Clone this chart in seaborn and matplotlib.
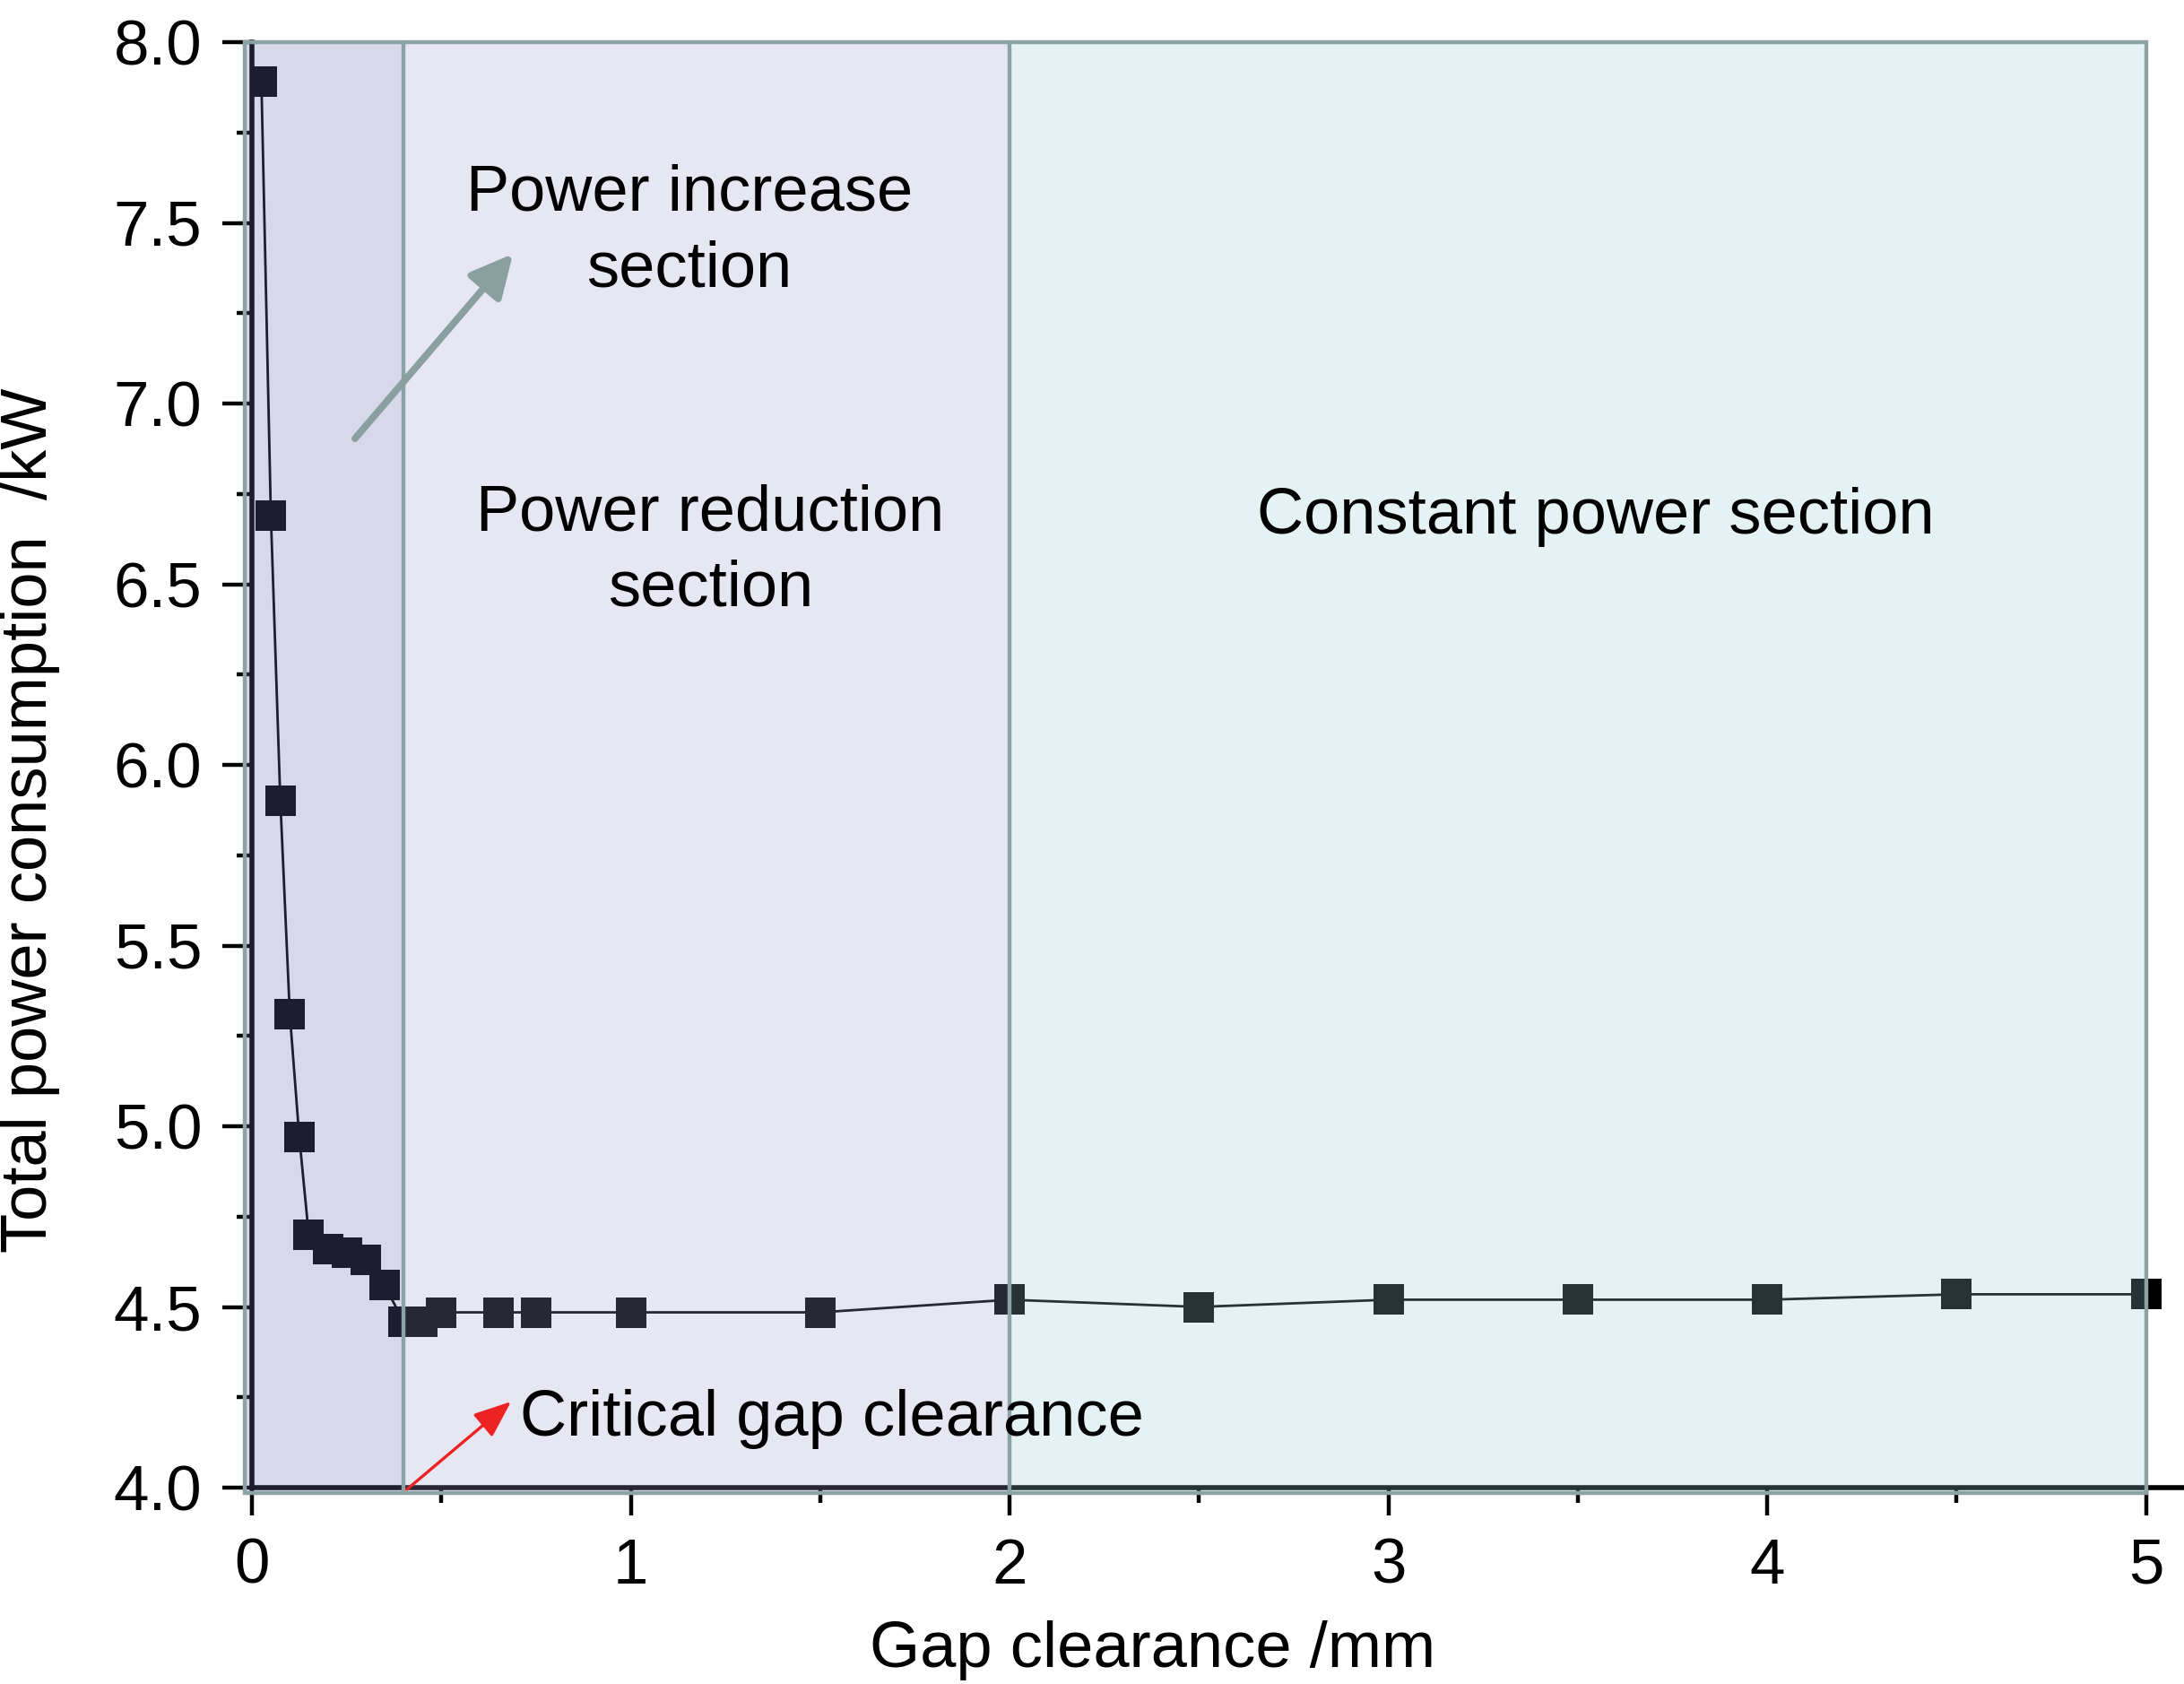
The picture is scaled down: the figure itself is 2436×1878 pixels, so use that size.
import numpy as np
import pandas as pd
import matplotlib
matplotlib.use("Agg")
import matplotlib.pyplot as plt
from matplotlib.patches import Rectangle
from matplotlib.ticker import MultipleLocator, FormatStrFormatter
import seaborn as sns

# ---- data ----
gap_mm = [0.025, 0.05, 0.075, 0.1, 0.125, 0.15, 0.2, 0.25, 0.3, 0.35, 0.4, 0.45,
          0.5, 0.65, 0.75, 1.0, 1.5, 2.0, 2.5, 3.0, 3.5, 4.0, 4.5, 5.0]
power_kw = [7.89, 6.69, 5.90, 5.31, 4.97, 4.70, 4.66, 4.65, 4.63, 4.56, 4.46, 4.46,
            4.485, 4.485, 4.485, 4.485, 4.485, 4.52, 4.50, 4.52, 4.52, 4.52, 4.535, 4.535]

section_edges = [-0.019, 0.4, 2.0, 5.0]
section_colors = [(112/255, 112/255, 180/255), (160/255, 160/255, 212/255), (148/255, 204/255, 208/255)]
section_alphas = [0.267, 0.25, 0.25]
section_labels = ["Power increase\nsection", "Power reduction\nsection", "Constant power section"]

sns.set_style("ticks")
plt.rcParams["font.family"] = ["Liberation Sans", "DejaVu Sans"]
plt.rcParams["text.color"] = "black"
plt.rcParams["axes.labelcolor"] = "black"
plt.rcParams["xtick.color"] = "black"
plt.rcParams["ytick.color"] = "black"

fig = plt.figure(figsize=(12.18, 9.39), dpi=200)
W, H = 2436, 1878
ax = fig.add_axes([281 / W, 1 - 1659 / H, (W - 281) / W, (1659 - 47) / H])

df = pd.DataFrame({"gap": gap_mm, "power": power_kw})
sns.lineplot(data=df, x="gap", y="power", ax=ax, color="black", linewidth=1.0,
             marker="s", markersize=12, markeredgewidth=0, markerfacecolor="black",
             zorder=2)

ax.set_xlim(0, 5.1)
ax.set_ylim(4.0, 8.0)

y_bot = 3.985
border = "#8ca3a5"
# shaded sections drawn on top (semi-transparent)
for i in range(3):
    x0, x1 = section_edges[i], section_edges[i + 1]
    ax.add_patch(Rectangle((x0, y_bot), x1 - x0, 8.0 - y_bot, facecolor=section_colors[i],
                           alpha=section_alphas[i], edgecolor="none", zorder=3, clip_on=False))
# borders
ax.add_patch(Rectangle((section_edges[0], y_bot), section_edges[-1] - section_edges[0], 8.0 - y_bot,
                       facecolor="none", edgecolor=border, lw=1.6, zorder=4, clip_on=False))
for xv in section_edges[1:3]:
    ax.plot([xv, xv], [y_bot, 8.0], color=border, lw=1.6, zorder=4, clip_on=False)

# spines
for s in ["top", "right"]:
    ax.spines[s].set_visible(False)
for s in ["left", "bottom"]:
    ax.spines[s].set_linewidth(2.0)
    ax.spines[s].set_color("black")

ax.xaxis.set_major_locator(MultipleLocator(1))
ax.xaxis.set_minor_locator(MultipleLocator(0.5))
ax.yaxis.set_major_locator(MultipleLocator(0.5))
ax.yaxis.set_minor_locator(MultipleLocator(0.25))
ax.yaxis.set_major_formatter(FormatStrFormatter("%.1f"))
ax.xaxis.set_major_formatter(FormatStrFormatter("%d"))
ax.tick_params(axis="both", which="major", direction="out", width=1.6, labelsize=25.5,
               color="black", labelcolor="black")
ax.tick_params(axis="x", which="major", length=11, pad=9)
ax.tick_params(axis="y", which="major", length=12, pad=8)
ax.tick_params(axis="both", which="minor", direction="out", width=1.6, length=6, color="black")
ax.set_xlabel("")
ax.set_ylabel("")

fig.text(34 / W, 1 - 915 / H, "Total power consumption  /kW", rotation=90,
         ha="center", va="center", fontsize=26, color="black")
fig.text(1286 / W, 4 / H, "Gap clearance /mm", ha="center", va="bottom", fontsize=26,
         color="black")

# section labels
ax.text(1.155, 7.475, section_labels[0], ha="center", va="center", fontsize=26,
        linespacing=1.33, zorder=5, color="black")
ax.text(1.21, 6.59, section_labels[1], ha="center", va="center", fontsize=26,
        linespacing=1.33, zorder=5, color="black")
ax.text(3.546, 6.685, section_labels[2], ha="center", va="center", fontsize=26, zorder=5,
        color="black")
ax.text(0.707, 4.19, "Critical gap clearance", ha="left", va="center", fontsize=26, zorder=5,
        color="black")

# arrows
ax.annotate("", xy=(0.689, 7.414), xytext=(0.272, 6.903),
            arrowprops=dict(arrowstyle="-|>", color="#8aa0a0", lw=2.8, mutation_scale=36,
                            shrinkA=0, shrinkB=0), zorder=5)
ax.annotate("", xy=(0.684, 4.238), xytext=(0.409, 3.995), annotation_clip=False,
            arrowprops=dict(arrowstyle="-|>,head_length=0.4,head_width=0.16", color="#ee2222",
                            lw=1.2, mutation_scale=32, shrinkA=0, shrinkB=0), zorder=5)

fig.savefig("out.png", dpi=200)
